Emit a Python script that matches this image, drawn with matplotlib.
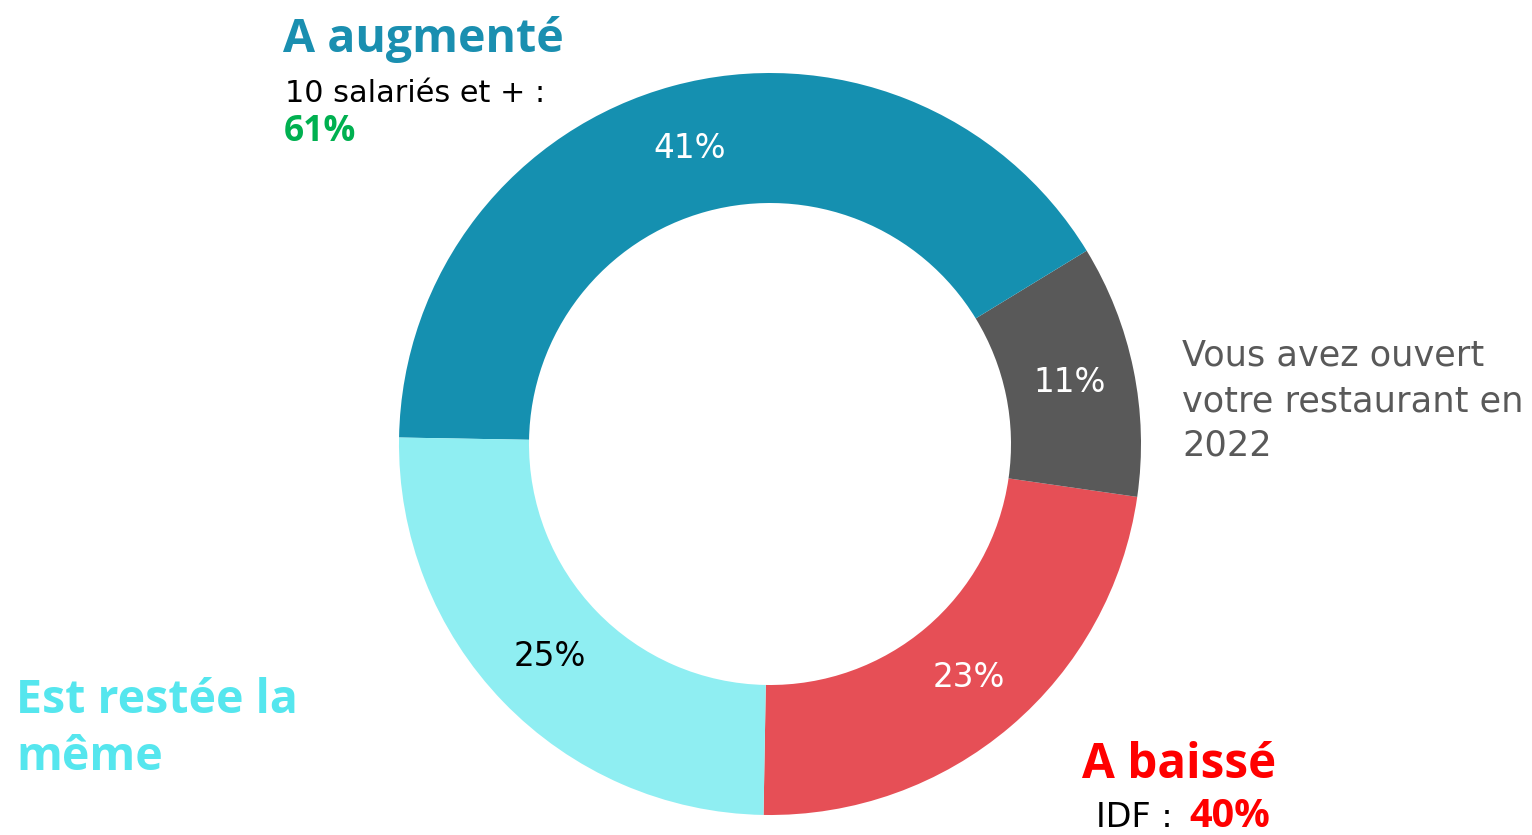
import matplotlib.pyplot as plt

# parts, counter-clockwise from the bottom
categories = ['A baissé', 'Vous avez ouvert votre restaurant en 2022',
              'A augmenté', 'Est restée la même']
values = [23, 11, 41, 25]
colors = ['#E64F56', '#595959', '#1590B0', '#8FEEF2']
pct_colors = ['white', 'white', 'white', 'black']

W, H = 1532, 835
fig = plt.figure(figsize=(W / 100, H / 100), dpi=100)
ax = fig.add_axes([0, 0, 1, 1])

wedges, texts, autotexts = ax.pie(
    values, colors=colors, startangle=-91, counterclock=True,
    center=(770, H - 444), radius=371,
    wedgeprops=dict(width=130, linewidth=0),
    autopct=lambda p: f'{p:.0f}%', pctdistance=0.825,
    textprops=dict(fontsize=23.5, family='DejaVu Sans'))
for t, c in zip(autotexts, pct_colors):
    t.set_color(c)

ax.set_xlim(0, W)
ax.set_ylim(0, H)
ax.set_aspect('equal')
ax.axis('off')

bold = dict(family='Open Sans', fontweight='bold', ha='left', va='baseline')
reg = dict(family='DejaVu Sans', ha='left', va='baseline')

# A augmenté
ax.text(283, H - 52, 'A augmenté', color='#1A8FB0', fontsize=33.5, **bold)
ax.text(285, H - 102, '10 salariés et + :', color='black', fontsize=21.8, **reg)
ax.text(284, H - 141, '61%', color='#00B050', fontsize=25.5, **bold)

# nouveaux
grey_lines = ['Vous avez ouvert', 'votre restaurant en', '2022']
for i, line in enumerate(grey_lines):
    ax.text(1182, H - 366 - 45 * i, line, color='#595959', fontsize=25.3, **reg)

# Est restée la même
ax.text(16, H - 713, 'Est restée la', color='#55E6EE', fontsize=33.5, **bold)
ax.text(16, H - 770, 'même', color='#55E6EE', fontsize=33.5, **bold)

# A baissé
ax.text(1082, H - 778, 'A baissé', color='#FF0000', fontsize=34.3, **bold)
ax.text(1096, H - 827, 'IDF :', color='black', fontsize=24, **reg)
ax.text(1189, H - 827, '40%', color='#FF0000', fontsize=28.5, **bold)

fig.savefig('out.png', dpi=100, facecolor='white')
